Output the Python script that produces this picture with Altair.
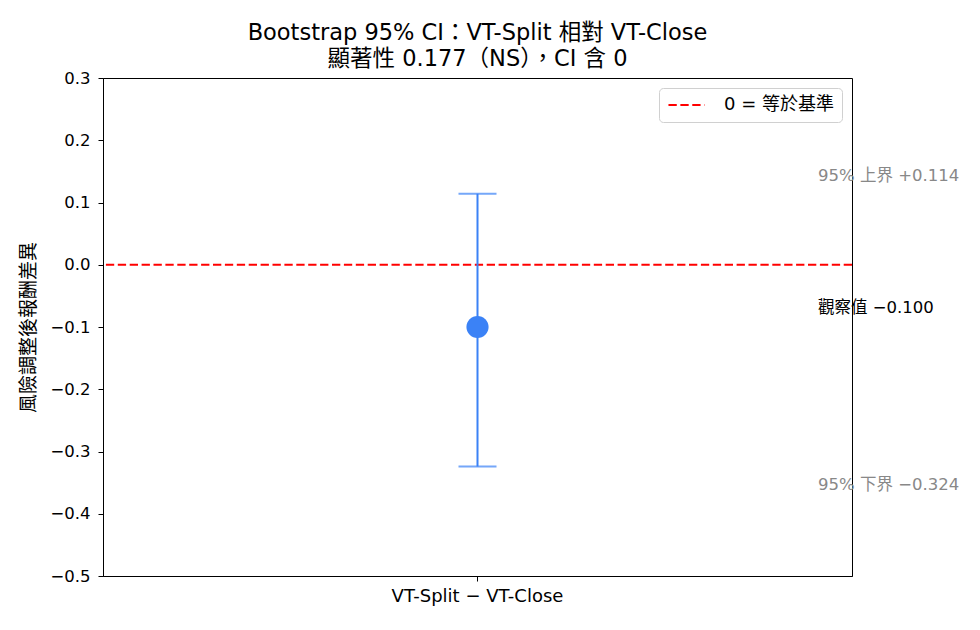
import altair as alt
import pandas as pd

# ---- data ----
categories = ["VT-Split − VT-Close"]
observed = [-0.100]
ci_low = [-0.324]
ci_high = [0.114]

ref_labels = ["0 = 等於基準"]
ref_values = [0.0]

ann_texts = ["95% 上界 +0.114", "觀察值 −0.100", "95% 下界 −0.324"]
ann_values = [0.114, -0.100, -0.324]

y_ticks = [-0.5, -0.4, -0.3, -0.2, -0.1, 0.0, 0.1, 0.2, 0.3]

FONT = "DejaVu Sans, Noto Sans CJK TC, sans-serif"
BLUE = "#3b82f6"

df = pd.DataFrame({"cat": categories, "obs": observed, "lo": ci_low, "hi": ci_high})
ref_df = pd.DataFrame({"label": ref_labels, "y": ref_values})
ann_df = pd.DataFrame({"text": ann_texts, "val": ann_values})

yscale = alt.Scale(domain=[-0.5, 0.3], nice=False, zero=False)
yaxis = alt.Axis(values=y_ticks, format=".1f", title="風險調整後報酬差異",
                 grid=False, tickSize=5, labelFontSize=16.5, titleFontSize=19,
                 titleFontWeight="normal", labelColor="black", titleColor="black",
                 tickColor="black", domainColor="black", labelPadding=8, titlePadding=11,
                 labelFont=FONT, titleFont=FONT)
xaxis = alt.Axis(title=None, labelAngle=0, grid=False, tickSize=5, labelFontSize=18,
                 labelColor="black", tickColor="black", domainColor="black", labelPadding=6,
                 labelFont=FONT)

base = alt.Chart(df)
x_enc = alt.X("cat:N", axis=xaxis, scale=alt.Scale(paddingInner=0, paddingOuter=0))

zero_rule = alt.Chart(ref_df).mark_rule(strokeDash=[8.3, 3.6], strokeWidth=2).encode(
    y=alt.Y("y:Q", scale=yscale, axis=yaxis),
    color=alt.Color("label:N", scale=alt.Scale(range=["red"]),
                    legend=alt.Legend(title=None, orient="top-right", offset=10,
                                      fillColor="white", strokeColor="#d0d0d0",
                                      cornerRadius=4, padding=8, clipHeight=18,
                                      symbolType="stroke", symbolSize=1300,
                                      symbolStrokeWidth=2, symbolDash=[8.3, 3.6],
                                      labelFontSize=18, labelColor="black",
                                      labelFont=FONT, labelOffset=18)),
)

err = base.mark_rule(color=BLUE, strokeWidth=2).encode(
    x=x_enc, y=alt.Y("lo:Q", scale=yscale, axis=yaxis), y2="hi:Q")
cap_hi = base.mark_tick(color=BLUE, size=38, thickness=2).encode(
    x=x_enc, y=alt.Y("hi:Q", scale=yscale, axis=yaxis))
cap_lo = base.mark_tick(color=BLUE, size=38, thickness=2).encode(
    x=x_enc, y=alt.Y("lo:Q", scale=yscale, axis=yaxis))
pt = base.mark_circle(color=BLUE, size=490, opacity=1).encode(
    x=x_enc, y=alt.Y("obs:Q", scale=yscale, axis=yaxis))

ann_layers = []
for i, (dy, col) in enumerate([(-18, "#888888"), (-19, "black"), (19, "#888888")]):
    ann_layers.append(
        alt.Chart(ann_df.iloc[[i]]).mark_text(align="left", baseline="middle", fontSize=16.5,
                                               dy=dy, color=col, font=FONT).encode(
            x=alt.value(715), y=alt.Y("val:Q", scale=yscale, axis=yaxis), text="text:N")
    )

chart = alt.layer(zero_rule, err, cap_hi, cap_lo, pt, *ann_layers).properties(
    width=749, height=498,
    title=alt.TitleParams(["Bootstrap 95% CI：VT-Split 相對 VT-Close", "顯著性 0.177（NS），CI 含 0"],
                          fontSize=22.5, fontWeight="normal", anchor="middle", color="black",
                          lineHeight=26, offset=0, font=FONT),
    autosize=alt.AutoSizeParams(type="none"),
    padding={"left": 103, "top": 78, "right": 128, "bottom": 54},
).configure(
    font=FONT, background="white"
).configure_view(stroke="black", strokeWidth=1)

chart.save("out.html", embed_options={"renderer": "svg", "actions": False})
